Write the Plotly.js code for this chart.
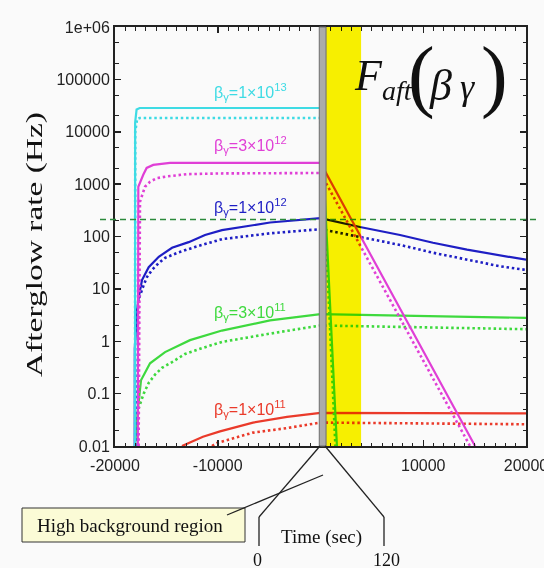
<!DOCTYPE html>
<html><head><meta charset="utf-8">
<script src="https://cdn.plot.ly/plotly-3.0.1.min.js"></script>
<style>
html,body{margin:0;padding:0;background:#fafafa;}
#chart{width:544px;height:568px;}
</style>
</head><body><div id="chart"></div>
<script>
// ---------------- data ----------------
const xRange = [-20000, 20000];
const yLogRange = [-2, 6];
const xTickVals = [-20000, -10000, 0, 10000, 20000];
const xTickText = ['-20000', '-10000', '', '10000', '20000'];
const yTickVals = [0.01, 0.1, 1, 10, 100, 1000, 10000, 100000, 1000000];
const yTickText = ['0.01', '0.1', '1', '10', '100', '1000', '10000', '100000', '1e+06'];

// high background (0-120 s, drawn enlarged) and F_aft band, in x units
const grayBand = [-120, 540];
const yellowBand = [540, 3950];
const thresholdRate = 210;

const seriesNames = ['βγ=1e13', 'βγ=3e12', 'βγ=1e12', 'βγ=3e11', 'βγ=1e11'];
const seriesLabels = ['β<sub>γ</sub>=1×10<sup>13</sup>', 'β<sub>γ</sub>=3×10<sup>12</sup>',
  'β<sub>γ</sub>=1×10<sup>12</sup>', 'β<sub>γ</sub>=3×10<sup>11</sup>', 'β<sub>γ</sub>=1×10<sup>11</sup>'];
const seriesColors = ['#3edbe4', '#e03fd6', '#1e1ec4', '#3ed93e', '#ea3a2a'];

const cyanSolidX = [-18050, -18040, -17900, -17600, 0, 1600];
const cyanSolidY = [0.01, 15000, 26500, 28400, 28400, 0.01];
const cyanDotX = [-18050, -18030, -17850, -17600, 0, 1450];
const cyanDotY = [0.01, 10000, 17500, 18300, 18300, 0.01];

const magentaSolidX = [-17780, -17760, -17730, -17250, -16920, -16280, -14650, 0, 15040];
const magentaSolidY = [0.01, 400, 890, 1510, 2040, 2330, 2540, 2540, 0.01];
const magentaDotX = [-17700, -17570, -17080, -16590, -15940, -14970, -13020, -9780, 0, 14550];
const magentaDotY = [0.01, 460, 890, 1110, 1300, 1400, 1550, 1600, 1630, 0.01];

const blueSolidX = [-18080, -18070, -17860, -17690, -17370, -16720, -15740, -14450, -12830, -11240, -9590, -4910, 0, 3840, 7740, 10950, 14260, 17470, 20000];
const blueSolidY = [0.01, 0.74, 3.9, 6.9, 14.7, 26, 41, 61, 78, 107, 132, 185, 224, 152, 107, 76, 56, 43, 36];
const blueDotX = [-17900, -17750, -17690, -17210, -16890, -16400, -15750, -15130, -13800, -12210, -10560, -9590, -4910, 0, 3840, 7740, 10950, 14260, 17470, 20000];
const blueDotY = [0.01, 2, 6.4, 11.8, 16.8, 23, 31, 39, 50, 63, 78, 89, 115, 138, 98, 69, 49, 36, 27, 23];

const greenSolidX = [-18050, -17760, -17470, -16590, -15130, -12700, -9590, -4910, 0, 20000];
const greenSolidY = [0.01, 0.053, 0.18, 0.38, 0.62, 1.05, 1.6, 2.5, 3.3, 2.8];
const greenDotX = [-17900, -17690, -17210, -16720, -16110, -15430, -14450, -13190, -11530, -9590, -4910, 0, 20000];
const greenDotY = [0.01, 0.053, 0.10, 0.16, 0.23, 0.31, 0.40, 0.57, 0.74, 0.97, 1.4, 2.0, 1.7];

const redSolidX = [-13480, -11440, -9780, -6570, -3260, 0, 20000];
const redSolidY = [0.01, 0.015, 0.019, 0.028, 0.036, 0.043, 0.042];
const redDotX = [-10560, -10070, -6570, -3260, 0, 20000];
const redDotY = [0.01, 0.0114, 0.018, 0.022, 0.028, 0.026];

// ---------------- layout helpers ----------------
const W = 544, H = 568, L = 115, R = 526, T = 27, B = 446;
const px = v => (v - L) / (R - L);
const py = v => (B - v) / (B - T);
const SANS = 'Liberation Sans, Arial, sans-serif';
const SERIF = 'Liberation Serif, Times New Roman, serif';
const YELLOW = '#fcf400';
// y title in the original is a horizontally stretched text box
const TITLE_LEN = 265, TITLE_CX = 34, TITLE_CY = 244.5;

const solids = [[cyanSolidX, cyanSolidY], [magentaSolidX, magentaSolidY], [blueSolidX, blueSolidY], [greenSolidX, greenSolidY], [redSolidX, redSolidY]];
const dots = [[cyanDotX, cyanDotY], [magentaDotX, magentaDotY], [blueDotX, blueDotY], [greenDotX, greenDotY], [redDotX, redDotY]];

const traces = [];
for (let i = seriesNames.length - 1; i >= 0; i--) {
  traces.push({x: dots[i][0], y: dots[i][1], mode: 'lines', name: seriesNames[i] + ' (dotted)',
    line: {color: seriesColors[i], width: 2.6, dash: '2.5px,2.8px'}, hoverinfo: 'skip'});
  traces.push({x: solids[i][0], y: solids[i][1], mode: 'lines', name: seriesNames[i],
    line: {color: seriesColors[i], width: 2.2}, hoverinfo: 'skip'});
}

const minorY = [];
for (let e = -2; e < 6; e++) { minorY.push(2 * Math.pow(10, e)); minorY.push(5 * Math.pow(10, e)); }

const labelY = [92, 145, 207, 312, 409];
const annotations = seriesLabels.map((t, i) => ({
  text: t, xref: 'paper', yref: 'paper', x: px(250), y: py(labelY[i]), xanchor: 'center', yanchor: 'middle',
  showarrow: false, font: {family: SANS, size: 16, color: seriesColors[i]}
}));
const lineAnn = (text, x, y, size, italic, xa) => ({
  text: italic ? '<i>' + text + '</i>' : text, xref: 'paper', yref: 'paper', x: px(x), y: py(y),
  xanchor: xa || 'center', yanchor: 'middle', showarrow: false,
  font: {family: SERIF, size: size, color: '#111'}
});
annotations.push(lineAnn('F', 368, 75, 44, true));
annotations.push(lineAnn('aft', 397, 90, 28, true));
annotations.push(lineAnn('(', 421, 75, 80, false));
annotations.push(lineAnn('β', 440, 85, 44, true));
annotations.push(lineAnn('γ', 467, 87, 36, true));
annotations.push(lineAnn(')', 494, 75, 80, false));
annotations.push(lineAnn('High background region', 130, 525, 19, false));
annotations.push(lineAnn('Time (sec)', 321, 537, 19, false));
annotations.push(lineAnn('0', 257, 560, 18, false));
annotations.push(lineAnn('120', 386, 560, 18, false));

const seg = (x0, y0, x1, y1, w) => ({type: 'line', xref: 'paper', yref: 'paper', layer: 'above',
  x0: px(x0), y0: py(y0), x1: px(x1), y1: py(y1), line: {color: '#222', width: w || 1.3}});

const shapes = [
  {type: 'line', xref: 'paper', yref: 'y', x0: px(100), x1: px(539), y0: thresholdRate, y1: thresholdRate,
    layer: 'above', line: {color: '#2c8a3c', width: 1.5, dash: '6px,4px'}},
  {type: 'rect', xref: 'x', yref: 'paper', x0: yellowBand[0], x1: yellowBand[1], y0: 0, y1: 1,
    layer: 'above', fillcolor: YELLOW, line: {width: 0}},
  {type: 'rect', xref: 'x', yref: 'paper', x0: grayBand[0], x1: grayBand[1], y0: 0, y1: 1,
    layer: 'above', fillcolor: '#ababab', line: {color: '#6c6c6c', width: 1}},
  {type: 'rect', xref: 'paper', yref: 'paper', x0: px(22), x1: px(245), y0: py(508), y1: py(542),
    layer: 'above', fillcolor: '#fbfbd6', line: {color: '#333', width: 1}},
  seg(227, 515, 323, 475),
  seg(320, 446, 259, 517), seg(325, 446, 384, 517),
  seg(259, 517, 259, 546), seg(384, 517, 384, 546)
];

const axisCommon = {
  showline: true, linecolor: '#222', linewidth: 2, mirror: 'allticks', showgrid: false, zeroline: false,
  ticks: 'inside', ticklen: 6, tickwidth: 1.5, tickcolor: '#222',
  tickfont: {family: SANS, size: 16, color: '#222'}
};

const layout = {
  width: W, height: H, margin: {l: L, r: W - R, t: T, b: H - B, pad: 0},
  paper_bgcolor: '#fafafa', plot_bgcolor: '#fafafa', showlegend: false,
  xaxis: Object.assign({}, axisCommon, {type: 'linear', range: xRange, tickmode: 'array',
    tickvals: xTickVals, ticktext: xTickText, ticklabeloverflow: 'allow', ticklabelstandoff: 4,
    minor: {dtick: 1000, ticks: 'inside', ticklen: 3.5, tickwidth: 1, tickcolor: '#222', showgrid: false}}),
  yaxis: Object.assign({}, axisCommon, {type: 'log', range: yLogRange, tickmode: 'array',
    tickvals: yTickVals, ticktext: yTickText,
    minor: {tickmode: 'array', tickvals: minorY, ticks: 'inside', ticklen: 3.5, tickwidth: 1, tickcolor: '#222', showgrid: false},
    title: {text: 'Afterglow rate (Hz)', font: {family: SERIF, size: 24, color: '#111'}, standoff: 10}}),
  shapes: shapes, annotations: annotations
};

// the F_aft band is a multiplicative (transparent) overlay in the original figure
function blend() {
  document.querySelectorAll('#chart .shapelayer path').forEach(p => {
    const f = (p.style.fill || p.getAttribute('fill') || '').replace(/\s/g, '').toLowerCase();
    if (f === 'rgb(252,244,0)' || f === YELLOW) {
      let el = p;
      while (el && el.parentNode && !(el.parentNode.classList && el.parentNode.classList.contains('shapelayer'))) el = el.parentNode;
      [p, p.parentNode, el].forEach(n => { if (n && n.style) n.style.mixBlendMode = 'multiply'; });
    }
  });
}
function stretchTitle() {
  const t = document.querySelector('#chart .ytitle');
  if (!t || t.dataset.done) return;
  const x = +t.getAttribute('x'), y = +t.getAttribute('y');
  const len = t.getComputedTextLength();
  if (!len) return;
  const s = TITLE_LEN / len;
  t.style.transformOrigin = x + 'px ' + y + 'px';
  const base = 'rotate(-90deg) scaleX(' + s + ')';
  t.style.transform = base;
  const r = t.getBoundingClientRect();
  const c = document.getElementById('chart').getBoundingClientRect();
  const dx = TITLE_CX - (r.left + r.width / 2 - c.left);
  const dy = TITLE_CY - (r.top + r.height / 2 - c.top);
  t.style.transform = 'translate(' + dx + 'px,' + dy + 'px) ' + base;
  t.dataset.done = '1';
}
function finish() { blend(); stretchTitle(); }
Plotly.newPlot('chart', traces, layout, {staticPlot: true}).then(finish);
finish();
</script>
</body></html>
